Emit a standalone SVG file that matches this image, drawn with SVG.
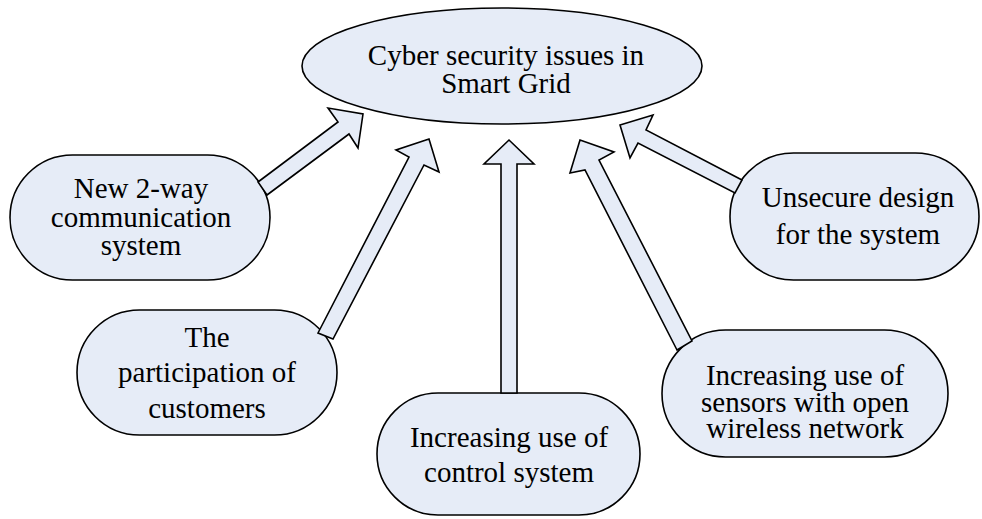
<svg xmlns="http://www.w3.org/2000/svg" width="982" height="519" viewBox="0 0 982 519">
  <style>
    .shape { fill: #E6ECF7; stroke: #000; stroke-width: 1.6; stroke-linejoin: miter; }
    .label { font-family: "Liberation Serif", "Times New Roman", serif; font-size: 29px; fill: #000; text-anchor: middle; }
  </style>
  <rect width="982" height="519" fill="#fff"/>

  <!-- central topic -->
  <g id="node-cyber-security">
    <ellipse class="shape" cx="502" cy="66" rx="200" ry="58"/>
    <text class="label" x="506" y="65">Cyber security issues in</text>
    <text class="label" x="506" y="93">Smart Grid</text>
  </g>

  <!-- contributing factors -->
  <g id="node-two-way">
    <rect class="shape" x="10" y="155" width="260" height="125" rx="62.5" ry="62.5"/>
    <text class="label" x="141" y="198">New 2-way</text>
    <text class="label" x="141" y="227">communication</text>
    <text class="label" x="141" y="255">system</text>
  </g>

  <g id="node-customers">
    <rect class="shape" x="77" y="310" width="260" height="125" rx="62.5" ry="62.5"/>
    <text class="label" x="207" y="347">The</text>
    <text class="label" x="207" y="382">participation of</text>
    <text class="label" x="207" y="418">customers</text>
  </g>

  <g id="node-control-system">
    <rect class="shape" x="377" y="393" width="263" height="122" rx="61" ry="61"/>
    <text class="label" x="509" y="447">Increasing use of</text>
    <text class="label" x="509" y="482">control system</text>
  </g>

  <g id="node-sensors">
    <rect class="shape" x="662" y="330" width="286" height="127" rx="63.5" ry="63.5"/>
    <text class="label" x="805" y="385">Increasing use of</text>
    <text class="label" x="805" y="412">sensors with open</text>
    <text class="label" x="805" y="438">wireless network</text>
  </g>

  <g id="node-unsecure-design">
    <rect class="shape" x="730" y="153" width="249" height="127" rx="63.5" ry="63.5"/>
    <text class="label" x="858" y="207">Unsecure design</text>
    <text class="label" x="858" y="244">for the system</text>
  </g>

  <!-- block arrows pointing at the central topic -->
  <g id="connectors">
    <polygon class="shape" points="258,182 338,122 328,108 363,114 358,148 349,134 267,195"/>
    <polygon class="shape" points="318,333 409,157 396,150 429,139 439,172 424,165 333,339"/>
    <polygon class="shape" points="501,393 501,164 484,164 509,140 534,164 517,164 517,393"/>
    <polygon class="shape" points="677,350 585,170 570,173 580,140 614,152 599,160 692,341"/>
    <polygon class="shape" points="742,180 646,130 653,115 620,125 630,158 638,143 735,193"/>
  </g>
</svg>
